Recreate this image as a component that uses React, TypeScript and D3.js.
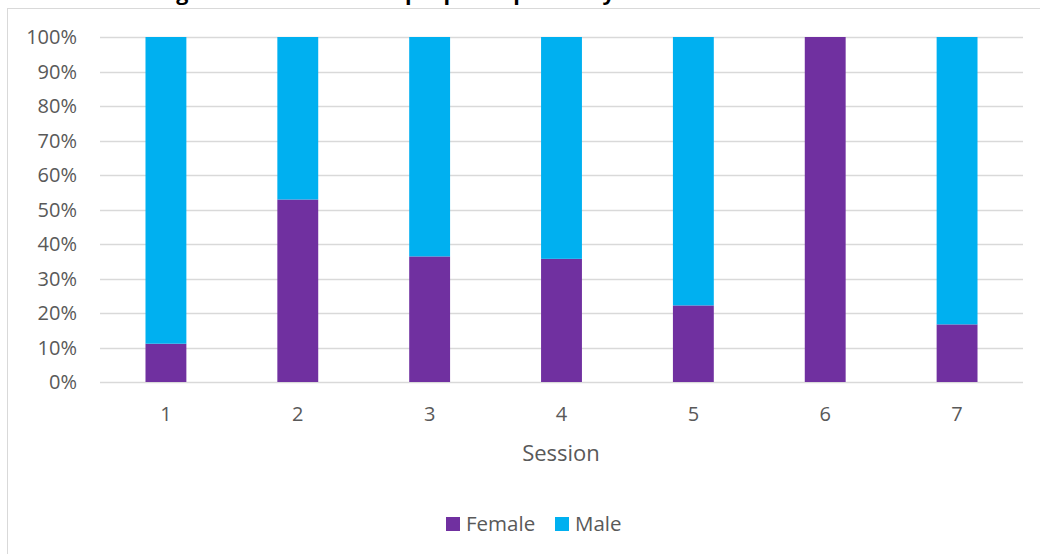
import React from "react";
import * as d3 from "d3";

const sessions = ["1", "2", "3", "4", "5", "6", "7"];
const female = [0.111, 0.529, 0.364, 0.357, 0.222, 1.0, 0.167];
const male = [0.889, 0.471, 0.636, 0.643, 0.778, 0.0, 0.833];
const seriesNames = ["Female", "Male"];
const seriesColors = ["#7030A0", "#00B0F0"];
const yTicks = [0, 0.1, 0.2, 0.3, 0.4, 0.5, 0.6, 0.7, 0.8, 0.9, 1.0];
const titleText = "Figure 4: Audience sample participation by Gender for each Session";

const W = 1040;
const H = 554;
const left = 100;
const right = 1023;
const top = 37;
const bottom = 382;
const FONT = "'Open Sans', 'Segoe UI', sans-serif";

export default function App() {
  const x = d3.scaleBand().domain(sessions).range([left, right]).paddingInner(0.69).paddingOuter(0.345);
  const y = d3.scaleLinear().domain([0, 1]).range([bottom, top]);
  const rows = sessions.map((s, i) => ({ session: s, Female: female[i], Male: male[i] }));
  const stacked = d3.stack<any>().keys(seriesNames)(rows);
  const fmt = d3.format(".0%");

  return (
    <svg width={W} height={H} style={{ position: "absolute", left: 0, top: 0, background: "#fff" }}>
      <rect x={0} y={0} width={W} height={H} fill="#fff" />
      <line x1={7} x2={W} y1={8.5} y2={8.5} stroke="#D9D9D9" strokeWidth={1} />
      <line x1={7.5} x2={7.5} y1={8} y2={H} stroke="#D9D9D9" strokeWidth={1} />
      <text x={518} y={0} textAnchor="middle" fontFamily={FONT} fontWeight="bold" fontSize={19} fill="#000"
        textLength={720} lengthAdjust="spacingAndGlyphs">{titleText}</text>
      {yTicks.map((t) => (
        <g key={t}>
          <line x1={left} x2={right} y1={Math.round(y(t)) + 0.5} y2={Math.round(y(t)) + 0.5} stroke="#D9D9D9" strokeWidth={1.3} />
          <text x={77} y={y(t)} dy="0.35em" textAnchor="end" fontFamily={FONT} fontSize={20} fill="#595959">{fmt(t)}</text>
        </g>
      ))}
      {stacked.map((layer, li) => (
        <g key={layer.key} fill={seriesColors[li]}>
          {layer.map((d, i) => (
            <rect key={i} x={x(sessions[i])} width={x.bandwidth()} y={y(d[1])} height={Math.max(0, y(d[0]) - y(d[1]))} />
          ))}
        </g>
      ))}
      {sessions.map((s) => (
        <text key={s} x={(x(s) as number) + x.bandwidth() / 2} y={414} dy="0.35em" textAnchor="middle" fontFamily={FONT} fontSize={20} fill="#595959">{s}</text>
      ))}
      <text x={561} y={453} dy="0.35em" textAnchor="middle" fontFamily={FONT} fontSize={22} fill="#595959">Session</text>
      <g>
        <rect x={446} y={517} width={14} height={14} fill={seriesColors[0]} />
        <text x={466} y={524} dy="0.35em" fontFamily={FONT} fontSize={20.5} fill="#595959">{seriesNames[0]}</text>
        <rect x={555} y={517} width={14} height={14} fill={seriesColors[1]} />
        <text x={575} y={524} dy="0.35em" fontFamily={FONT} fontSize={20.5} fill="#595959">{seriesNames[1]}</text>
      </g>
    </svg>
  );
}
